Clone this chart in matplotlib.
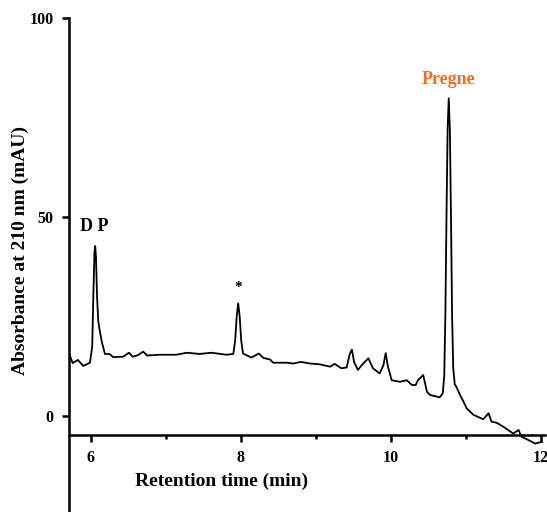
import matplotlib
matplotlib.use("Agg")
import matplotlib.pyplot as plt
from matplotlib.ticker import MultipleLocator

# chromatogram trace (min, mAU)
time_min = [5.72, 5.76, 5.83, 5.90, 5.99, 6.02, 6.035, 6.05, 6.06, 6.07, 6.085,
            6.10, 6.12, 6.15, 6.19, 6.25, 6.30,
            6.43, 6.51, 6.56, 6.63, 6.70, 6.75, 6.92, 7.14, 7.28, 7.45, 7.61, 7.81,
            7.90, 7.925, 7.945, 7.965, 7.985, 8.005, 8.03, 8.14, 8.24, 8.30, 8.39,
            8.43, 8.61, 8.70, 8.80, 8.92, 9.05, 9.19, 9.25, 9.34, 9.41, 9.45, 9.48,
            9.51, 9.56, 9.63, 9.70, 9.76, 9.85, 9.90, 9.93, 9.96, 10.01, 10.12,
            10.21, 10.28, 10.33, 10.36, 10.43, 10.48, 10.52, 10.65, 10.69, 10.71,
            10.725, 10.74, 10.755, 10.77, 10.785, 10.80, 10.815, 10.83, 10.85,
            10.87, 10.92, 10.97, 11.01, 11.10, 11.23, 11.30, 11.34, 11.41, 11.50,
            11.63, 11.70, 11.74, 11.85, 11.92, 12.01]
absorb = [15.3, 13.3, 14.1, 12.6, 13.4, 17.4, 30.0, 41.0, 42.7, 40.0, 30.0,
          24.0, 21.5, 18.5, 15.6, 15.6, 14.8,
          14.9, 15.9, 14.9, 15.3, 16.2, 15.2, 15.4, 15.4, 15.9, 15.6, 15.9, 15.4,
          15.6, 19.0, 25.0, 28.3, 25.0, 19.0, 15.7, 14.7, 15.7, 14.6, 14.2,
          13.4, 13.4, 13.2, 13.6, 13.2, 13.0, 12.4, 13.1, 12.0, 12.2, 15.5, 16.7,
          13.5, 11.6, 13.2, 14.5, 12.0, 10.7, 12.8, 15.8, 12.4, 9.0, 8.6,
          9.0, 7.8, 7.8, 9.0, 10.3, 6.1, 5.3, 4.7, 5.7, 10.0,
          25.0, 50.0, 72.0, 79.8, 72.0, 50.0, 25.0, 12.0, 8.0,
          7.4, 5.3, 3.5, 1.9, 0.3, -0.8, 0.7, -1.4, -1.7, -2.7,
          -4.4, -3.5, -5.2, -6.2, -6.9, -6.5]

peak_labels = ["D P", "*", "Pregne"]
peak_pos = [(6.05, 47.5), (7.96, 32.2), (10.77, 84.5)]
peak_colors = ["black", "black", "#F26B21"]

plt.rcParams["font.family"] = ["Liberation Serif", "DejaVu Serif"]
plt.rcParams["font.weight"] = "bold"

fig = plt.figure(figsize=(5.47, 5.12), dpi=100)
ax = fig.add_axes([0.126, 0.0, 0.870, 0.965])
ax.plot(time_min, absorb, color="black", lw=1.3, solid_joinstyle="round")

for lab, (x, y), c in zip(peak_labels, peak_pos, peak_colors):
    ax.text(x, y, lab, color=c, ha="center", va="center",
            fontsize=13 if lab != "*" else 11, fontweight="bold")

ax.set_xlim(5.71, 12.05)
ax.set_ylim(-24.1, 100)
ax.spines["top"].set_visible(False)
ax.spines["right"].set_visible(False)
ax.spines["bottom"].set_position(("data", -4.8))
for s in ("left", "bottom"):
    ax.spines[s].set_linewidth(1.8)

ax.set_xticks([6, 8, 10, 12])
ax.xaxis.set_minor_locator(MultipleLocator(1))
ax.set_yticks([0, 50, 100])
ax.tick_params(axis="both", which="major", length=5, width=1.8, labelsize=11.5, pad=6)
ax.tick_params(axis="x", which="minor", length=3, width=1.8)
for t in ax.get_xticklabels() + ax.get_yticklabels():
    t.set_fontweight("bold")

fig.text(0.405, 0.06, "Retention time (min)", ha="center", va="center",
         fontsize=14, fontweight="bold")
fig.text(0.037, 0.51, "Absorbance at 210 nm (mAU)", ha="center", va="center",
         rotation=90, fontsize=14, fontweight="bold")

fig.savefig("out.png", dpi=100)
